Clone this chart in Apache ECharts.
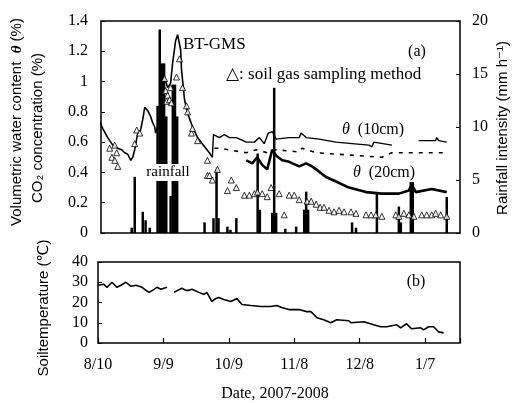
<!DOCTYPE html>
<html><head><meta charset="utf-8">
<script src="https://cdn.jsdelivr.net/npm/echarts@6/dist/echarts.min.js"></script>
<style>html,body{margin:0;padding:0;background:#fff}#c{width:516px;height:403px}</style>
</head><body><div id="c"></div>
<script>
// x values are days since 8/10/2007
const xTickLabels = ['8/10','9/9','10/9','11/8','12/8','1/7'];
const yLeftLabels = ['0','0.2','0.4','0.6','0.8','1','1.2','1.4'];
const yRightLabels = ['0','5','10','15','20'];
const yTempLabels = ['0','10','20','30','40'];

// CO2 concentration by BT-GMS (%)
const co2BTGMS = [[0,0.75],[1.8,0.69],[4.1,0.63],[6.4,0.58],[8.7,0.56],[10.5,0.55],[11.9,0.53],[13.3,0.52],[14.7,0.48],[15.6,0.50],[16.5,0.55],[17.9,0.66],[19.2,0.68],[20.2,0.75],[21.1,0.83],[22.4,0.81],[23.8,0.77],[24.7,0.73],[25.7,0.70],[26.1,0.66],[27.0,0.70],[27.9,0.79],[28.4,0.92],[29.3,0.98],[30.2,1.03],[31.6,0.96],[33.0,0.99],[33.9,1.12],[35.3,1.27],[36.2,1.31],[37.6,1.21],[38.0,1.08],[39.4,0.88],[40.8,0.79],[43.1,0.70],[45.4,0.63],[48.6,0.57],[50.8,0.53],[52.2,0.50]];
// volumetric water content at 10 cm
const theta10 = [[52.2,0.50],[52.7,0.65],[55.4,0.63],[57.7,0.65],[60.0,0.63],[63.2,0.63],[67.8,0.60],[71.5,0.60],[73.8,0.63],[76.0,0.59],[77.9,0.66],[79.7,0.67],[81.5,0.62],[87.5,0.63],[92.1,0.63],[93.0,0.66],[95.3,0.63],[101.2,0.62],[109.0,0.60],[116.4,0.59],[124.1,0.58],[125.5,0.57],[126.4,0.60],[134.7,0.58],[135,null],[147.0,0.61],[154.8,0.61],[155.3,0.63],[156.2,0.61],[159.9,0.60]];
// dashed series
const dashedSeries = [[53.1,0.56],[55.4,0.56],[67.8,0.53],[72.4,0.55],[77.4,0.53],[81.5,0.55],[92.1,0.535],[93.4,0.56],[99.9,0.53],[115.0,0.515],[130.1,0.50],[134.7,0.53],[141.1,0.53],[145.7,0.53],[159.4,0.53]];
// volumetric water content at 20 cm
const theta20 = [[67.8,0.48],[70.5,0.46],[72.8,0.50],[75.1,0.45],[77.4,0.42],[79.7,0.55],[81.5,0.51],[84.3,0.48],[87.5,0.47],[92.1,0.44],[95.3,0.46],[98.0,0.44],[99.9,0.42],[104.4,0.37],[109.0,0.34],[115.0,0.30],[122.8,0.27],[130.1,0.26],[137.9,0.26],[142.5,0.28],[143.8,0.32],[145.7,0.27],[153.0,0.29],[159.9,0.27]];
// soil gas sampling method (triangles)
const soilGas = [[5.0,0.56],[6.0,0.50],[7.3,0.58],[7.3,0.48],[8.2,0.53],[8.7,0.44],[16.5,0.59],[17.4,0.68],[18.8,0.66],[30.2,1.02],[30.7,0.94],[31.1,0.87],[31.6,0.91],[32.5,0.88],[33.0,0.96],[33.4,0.86],[35.7,1.03],[37.1,1.15],[38.5,0.96],[40.3,0.84],[40.8,0.80],[42.6,0.66],[43.1,0.69],[45.4,0.61],[49.9,0.48],[49.9,0.38],[50.8,0.38],[52.2,0.35],[54.5,0.42],[59.1,0.28],[60.9,0.35],[63.2,0.30],[66.9,0.25],[69.2,0.25],[71.5,0.26],[72.9,0.27],[75.1,0.26],[77.4,0.24],[79.2,0.30],[82.9,0.26],[85.2,0.12],[87.5,0.25],[89.8,0.25],[92.1,0.22],[95.7,0.21],[97.6,0.21],[99.9,0.19],[101.7,0.17],[103.5,0.17],[105.8,0.15],[108.1,0.14],[110.4,0.15],[112.7,0.14],[115.9,0.14],[118.2,0.13],[122.8,0.12],[125.1,0.12],[127.3,0.12],[130.1,0.11],[136.5,0.12],[137.9,0.11],[140.2,0.13],[142.5,0.12],[144.8,0.11],[148.4,0.12],[150.7,0.12],[153.0,0.12],[154.8,0.13],[157.1,0.12],[159.9,0.11]];
// rainfall intensity (mm/h)
const rainfall = [[15.1,0.5],[16.5,5.3],[20.2,2.0],[21.5,1.2],[23.4,0.5],[27,12],[28,19.2],[29,16],[30,16],[31,11],[33,3.5],[34,14],[35,14],[36,11],[48.6,1.0],[52.7,1.4],[54.1,6.0],[55.0,1.4],[59.1,0.6],[60.5,0.3],[63.2,1.4],[73,7.5],[74,2.2],[79.7,1.9],[80.6,13.7],[81.5,1.9],[85.7,0.4],[90.7,0.6],[94.4,2.2],[95.3,3.9],[96.2,2.2],[116.4,1.0],[118.2,0.5],[127.8,3.8],[137.9,2.5],[138.8,1.0],[143.4,4.8],[144.3,4.8],[159.9,3.4]];
// soil temperature (deg C)
const soilTemp = [[0,28.5],[0.5,28],[2.7,29],[4.1,27.5],[6.4,30],[8.7,27.5],[10.5,28.5],[12.8,30],[15.1,28],[17.4,28.5],[20.2,27.5],[22.0,26],[23.4,25],[25.7,26.5],[27.0,27.5],[28.9,26.5],[30.2,27],[31.6,27.5],[33,null],[34.8,25],[35.7,25.5],[38.5,27],[40.3,26],[41.7,26],[43.1,26.5],[46.3,25],[48.6,24],[49.9,25],[52.2,20.5],[54.1,22],[55.4,22.5],[57.7,21.5],[60.9,20.5],[63.7,22],[66.0,19],[70.1,18.5],[74.7,18],[79.2,18],[82.0,18.5],[84.3,17.5],[87.5,16.5],[92.1,16.5],[95.7,15.5],[97.6,15.5],[100.4,12.5],[103.5,11.5],[106.7,10],[109.5,11.5],[115.0,11],[116.0,10],[121.9,10.5],[126.4,9],[129.6,8],[132.4,8],[134.7,8.5],[137.0,9],[138.8,7.5],[141.5,9.5],[143.8,7],[148.0,7.5],[149.3,6.5],[151.6,8],[153.9,8],[156.2,5.5],[158.5,5]];

const SERIF = '"Liberation Serif","DejaVu Serif",serif';
const SANS = '"Liberation Sans","DejaVu Sans","Noto Sans CJK SC",sans-serif';
const tickFont = {fontFamily: SERIF, fontSize: 16, color: '#000'};

const chart = echarts.init(document.getElementById('c'), null, {renderer: 'canvas'});
chart.setOption({
  animation: false,
  backgroundColor: '#fff',
  grid: [
    {left: 101, right: 56, top: 21, height: 212, show: true, borderColor: '#000', borderWidth: 1.5},
    {left: 98, right: 56, top: 262, height: 81, show: true, borderColor: '#000', borderWidth: 1.5}
  ],
  xAxis: [
    {type: 'value', gridIndex: 0, min: 1, max: 166, axisLine: {show: false}, axisTick: {show: false}, axisLabel: {show: false}, splitLine: {show: false}},
    {type: 'value', gridIndex: 1, min: 0, max: 166, interval: 30,
     axisLine: {show: false}, axisTick: {show: true, inside: true, length: 5, lineStyle: {color: '#000', width: 1.2}},
     axisLabel: Object.assign({margin: 14, formatter: v => (v % 30 === 0 && v / 30 < xTickLabels.length) ? xTickLabels[v / 30] : ''}, tickFont),
     splitLine: {show: false}}
  ],
  yAxis: [
    {type: 'value', gridIndex: 0, min: 0, max: 1.4, interval: 0.2,
     axisLine: {show: false}, axisTick: {show: true, inside: true, length: 4, lineStyle: {color: '#000'}},
     axisLabel: Object.assign({margin: 13, formatter: v => yLeftLabels[Math.round(v / 0.2)]}, tickFont),
     splitLine: {show: false}},
    {type: 'value', gridIndex: 0, min: 0, max: 20, interval: 5, position: 'right',
     axisLine: {show: false}, axisTick: {show: true, inside: true, length: 4, lineStyle: {color: '#000'}},
     axisLabel: Object.assign({margin: 12, formatter: v => yRightLabels[Math.round(v / 5)]}, tickFont),
     splitLine: {show: false}},
    {type: 'value', gridIndex: 1, min: 0, max: 40, interval: 10,
     axisLine: {show: false}, axisTick: {show: true, inside: true, length: 4, lineStyle: {color: '#000'}},
     axisLabel: Object.assign({margin: 10, formatter: v => yTempLabels[Math.round(v / 10)]}, tickFont),
     splitLine: {show: false}}
  ],
  series: [
    {name: 'rainfall', type: 'bar', xAxisIndex: 0, yAxisIndex: 1, data: rainfall, barWidth: 2.5,
     itemStyle: {color: '#000'}, z: 1},
    {name: 'BT-GMS', type: 'line', xAxisIndex: 0, yAxisIndex: 0, data: co2BTGMS, showSymbol: false,
     lineStyle: {color: '#000', width: 1.6}, z: 3},
    {name: 'theta10', type: 'line', xAxisIndex: 0, yAxisIndex: 0, data: theta10, showSymbol: false, connectNulls: false,
     lineStyle: {color: '#000', width: 1.4}, z: 3},
    {name: 'dashed', type: 'line', xAxisIndex: 0, yAxisIndex: 0, data: dashedSeries, showSymbol: false,
     lineStyle: {color: '#000', width: 1.6, type: [4, 6]}, z: 3},
    {name: 'theta20', type: 'line', xAxisIndex: 0, yAxisIndex: 0, data: theta20, showSymbol: false,
     lineStyle: {color: '#000', width: 2.6}, z: 3},
    {name: 'soil gas', type: 'scatter', xAxisIndex: 0, yAxisIndex: 0, data: soilGas, symbol: 'triangle', symbolSize: 6,
     itemStyle: {color: '#fff', borderColor: '#000', borderWidth: 1}, z: 4},
    {name: 'soil temperature', type: 'line', xAxisIndex: 1, yAxisIndex: 2, data: soilTemp, showSymbol: false, connectNulls: false,
     lineStyle: {color: '#000', width: 1.6}, z: 3}
  ],
  graphic: [
    {type: 'rect', shape: {x: 143, y: 164, width: 50, height: 17}, style: {fill: '#fff'}, z: 50},
    {type: 'text', x: 168, y: 172, z: 51, style: {text: 'rainfall', font: '15px ' + SERIF, fill: '#000', textAlign: 'center', textVerticalAlign: 'middle'}},
    {type: 'text', x: 183, y: 45, z: 51, style: {text: 'BT-GMS', font: '17px ' + SERIF, fill: '#000', textAlign: 'left', textVerticalAlign: 'middle'}},
    {type: 'text', x: 226, y: 75, z: 51, style: {text: '△: soil gas sampling method', font: '17px ' + SERIF, fill: '#000', textAlign: 'left', textVerticalAlign: 'middle'}},
    {type: 'text', x: 417, y: 52, z: 51, style: {text: '(a)', font: '16px ' + SERIF, fill: '#000', textAlign: 'center', textVerticalAlign: 'middle'}},
    {type: 'text', x: 416, y: 282, z: 51, style: {text: '(b)', font: '16px ' + SERIF, fill: '#000', textAlign: 'center', textVerticalAlign: 'middle'}},
    {type: 'text', x: 342, y: 130, z: 51, style: {text: '{i|θ}  (10cm)', font: '16px ' + SERIF, fill: '#000', textAlign: 'left', textVerticalAlign: 'middle', rich: {i: {fontStyle: 'italic', fontFamily: SERIF, fontSize: 16}}}},
    {type: 'text', x: 353, y: 173, z: 51, style: {text: '{i|θ}  (20cm)', font: '16px ' + SERIF, fill: '#000', textAlign: 'left', textVerticalAlign: 'middle', rich: {i: {fontStyle: 'italic', fontFamily: SERIF, fontSize: 16}}}},
    {type: 'text', x: 17, y: 122, rotation: Math.PI / 2, z: 51, style: {text: 'Volumetric water content  {i|θ} (%)', font: '15px ' + SANS, fill: '#000', textAlign: 'center', textVerticalAlign: 'middle', rich: {i: {fontStyle: 'italic', fontWeight: 'bold', fontFamily: SERIF, fontSize: 15}}}},
    {type: 'text', x: 38, y: 128, rotation: Math.PI / 2, z: 51, style: {text: 'CO₂ concentration (%)', font: '15px ' + SANS, fill: '#000', textAlign: 'center', textVerticalAlign: 'middle'}},
    {type: 'text', x: 44, y: 308, rotation: Math.PI / 2, z: 51, style: {text: 'Soiltemperature (℃)', font: '15px ' + SANS, fill: '#000', textAlign: 'center', textVerticalAlign: 'middle'}},
    {type: 'text', x: 503, y: 128, rotation: Math.PI / 2, z: 51, style: {text: 'Rainfall intensity (mm h⁻¹)', font: '15px ' + SANS, fill: '#000', textAlign: 'center', textVerticalAlign: 'middle'}},
    {type: 'text', x: 275, y: 394, z: 51, style: {text: 'Date, 2007-2008', font: '16px ' + SERIF, fill: '#000', textAlign: 'center', textVerticalAlign: 'middle'}}
  ]
});
</script></body></html>
